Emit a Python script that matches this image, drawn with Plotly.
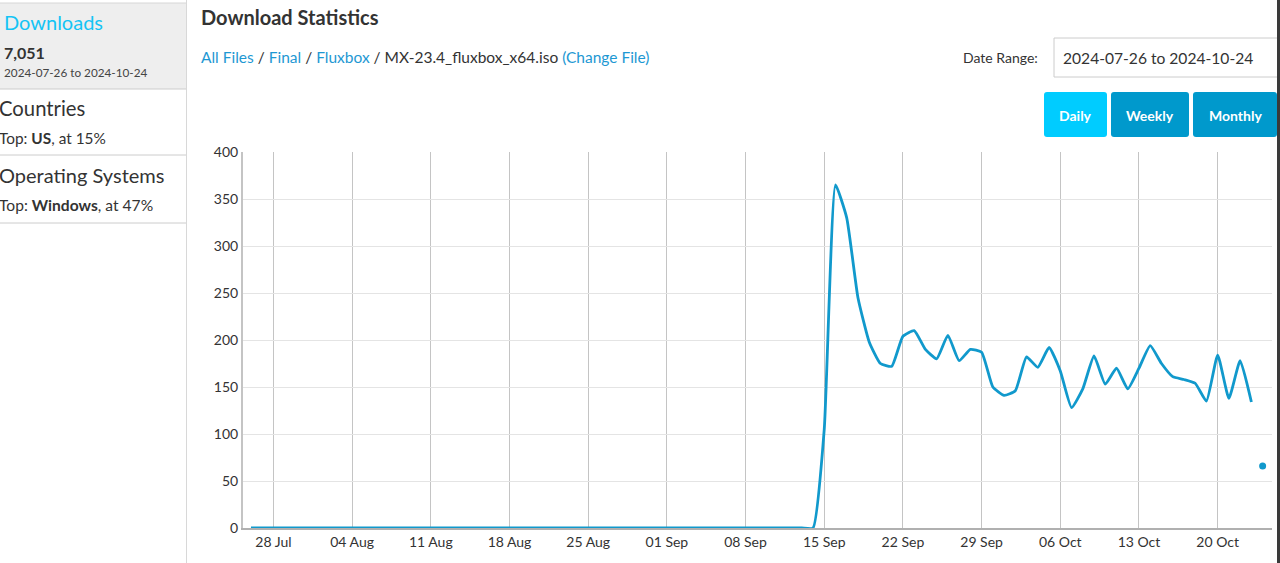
import pandas as pd
import plotly.graph_objects as go

W, H = 1280, 563

# ---------------- data ----------------
zero_days = pd.date_range("2024-07-26", "2024-09-14", freq="D")
zero_values = [
    0, 0, 0, 0, 0, 0, 0, 0, 0, 0,
    0, 0, 0, 0, 0, 0, 0, 0, 0, 0,
    0, 0, 0, 0, 0, 0, 0, 0, 0, 0,
    0, 0, 0, 0, 0, 0, 0, 0, 0, 0,
    0, 0, 0, 0, 0, 0, 0, 0, 0, 0,
    0,
]
active_days = pd.date_range("2024-09-15", "2024-10-23", freq="D")
active_values = [
    105, 365, 330, 245, 198, 175, 172, 204, 210, 190, 180, 205, 178, 190, 187, 150,
    141, 146, 182, 171, 192, 167, 128, 148, 183, 153, 170, 148, 170, 194, 175, 161,
    158, 154, 135, 184, 138, 178, 134,
]
partial_day = ["2024-10-24"]
partial_value = [66]

y_ticks = [0, 50, 100, 150, 200, 250, 300, 350, 400]
y_grid = [50, 100, 150, 200, 250, 300, 350]
x_tick_start = "2024-07-28"
x_range = ["2024-07-25 07:00", "2024-10-24 20:00"]

total_downloads = "7,051"
date_range_text = "2024-07-26 to 2024-10-24"

dates = list(zero_days) + list(active_days)
values = zero_values + active_values

LINE = "#1199cc"
FONT = "Lato"

fig = go.Figure()
fig.add_trace(go.Scatter(
    x=dates, y=values, mode="lines",
    line=dict(color=LINE, width=2.8, shape="spline", smoothing=0.45),
    hoverinfo="x+y", showlegend=False,
))
fig.add_trace(go.Scatter(
    x=partial_day, y=partial_value, mode="markers", yaxis="y2",
    marker=dict(color=LINE, size=7), showlegend=False,
))

# plot area in pixels
L, R, T, B = 243, 1272, 152, 528


def px(x):
    return x / W


def py(y):
    return 1 - y / H


fig.update_layout(
    width=W, height=H,
    margin=dict(l=0, r=0, t=0, b=0, pad=0, autoexpand=False),
    paper_bgcolor="white", plot_bgcolor="white",
    font=dict(family=FONT, color="#333", size=14),
    showlegend=False,
    xaxis=dict(
        domain=[px(L), px(R)], type="date", range=x_range, automargin=False,
        tickmode="linear", tick0=x_tick_start, dtick=7 * 86400000,
        tickformat="%d %b", showgrid=True, gridcolor="#c4c4c4", gridwidth=1,
        showline=True, linecolor="#b0b0b0", linewidth=2,
        ticks="", zeroline=False, tickfont=dict(size=14, color="#333"),
    ),
    yaxis=dict(
        domain=[py(B), py(T)], range=[0, 400], tickvals=y_ticks, automargin=False,
        showgrid=False, showline=True, linecolor="#c4c4c4", linewidth=2,
        ticks="", zeroline=False, tickfont=dict(size=14, color="#333"),
    ),
    yaxis2=dict(
        overlaying="y", range=[0, 400], tickvals=y_grid, showticklabels=False,
        showgrid=True, gridcolor="#e4e4e4", gridwidth=1, showline=False,
        zeroline=False, ticks="", automargin=False,
    ),
)

shapes = []
annotations = []


def rect(x0, y0, x1, y1, fill, line_color=None, line_width=0):
    shapes.append(dict(
        type="rect", xref="paper", yref="paper", layer="below",
        x0=px(x0), x1=px(x1), y0=py(y1), y1=py(y0),
        fillcolor=fill, line=dict(color=line_color or fill, width=line_width),
    ))


def hline(x0, x1, y, color, width=1):
    shapes.append(dict(type="line", xref="paper", yref="paper",
                       x0=px(x0), x1=px(x1), y0=py(y), y1=py(y),
                       line=dict(color=color, width=width)))


def vline(x, y0, y1, color, width=1):
    shapes.append(dict(type="line", xref="paper", yref="paper",
                       x0=px(x), x1=px(x), y0=py(y0), y1=py(y1),
                       line=dict(color=color, width=width)))


def text(x, y, s, size=14, color="#333", anchor="left", bold=False):
    if bold:
        s = "<b>" + s + "</b>"
    annotations.append(dict(
        xref="paper", yref="paper", x=px(x), y=py(y), text=s, showarrow=False,
        xanchor=anchor, yanchor="middle", borderpad=0,
        font=dict(family=FONT, size=size, color=color),
    ))


# sidebar
rect(0, 3, 186, 89, "#eeeeee")
hline(0, 186, 3, "#d6d6d6")
hline(0, 186, 89, "#cccccc")
hline(0, 186, 155, "#cccccc")
hline(0, 186, 223, "#cccccc")
vline(186.5, 0, 563, "#d8d8d8")
vline(1278.5, 0, 563, "#3a3a3a", 3)

text(3, 22, "Downloads", 20, "#14c4f5")
text(3, 52, total_downloads, 16, "#333", bold=True)
text(3, 73, date_range_text, 11.75, "#444")
text(-2, 108, "Countries", 20.3, "#333")
text(-2, 138, "Top: <b>US</b>, at 15%", 15.4, "#333")
text(-2, 175, "Operating Systems", 20, "#333")
text(-2, 205, "Top: <b>Windows</b>, at 47%", 15.6, "#333")

# header
text(200, 17, "Download Statistics", 20, "#333", bold=True)
LINK = "#1e98d3"
text(200, 57,
     f"<span style='color:{LINK}'>All Files</span> / "
     f"<span style='color:{LINK}'>Final</span> / "
     f"<span style='color:{LINK}'>Fluxbox</span> / MX-23.4_fluxbox_x64.iso "
     f"<span style='color:{LINK}'>(Change File)</span>", 15.5, "#333")

text(962, 58, "Date Range:", 14, "#333")
rect(1054, 38, 1290, 77, "white", "#cccccc", 1)
text(1062, 58, date_range_text, 15.6, "#333")

# buttons
buttons = [("Daily", 1044, 1107, "#00ccff"),
           ("Weekly", 1111, 1189, "#0099cc"),
           ("Monthly", 1193, 1277, "#0099cc")]
for label, x0, x1, col in buttons:
    shapes.append(dict(
        type="path", xref="paper", yref="paper", layer="below",
        path=(f"M {px(x0 + 3)},{py(92)} L {px(x1 - 3)},{py(92)} "
              f"Q {px(x1)},{py(92)} {px(x1)},{py(95)} L {px(x1)},{py(134)} "
              f"Q {px(x1)},{py(137)} {px(x1 - 3)},{py(137)} L {px(x0 + 3)},{py(137)} "
              f"Q {px(x0)},{py(137)} {px(x0)},{py(134)} L {px(x0)},{py(95)} "
              f"Q {px(x0)},{py(92)} {px(x0 + 3)},{py(92)} Z"),
        fillcolor=col, line=dict(width=0),
    ))
    text((x0 + x1) / 2, 115, label, 14, "white", anchor="center", bold=True)

fig.update_layout(shapes=shapes, annotations=annotations)

fig.write_html("out.html", config={"displayModeBar": False},
               post_script="document.body.style.margin='0';")
